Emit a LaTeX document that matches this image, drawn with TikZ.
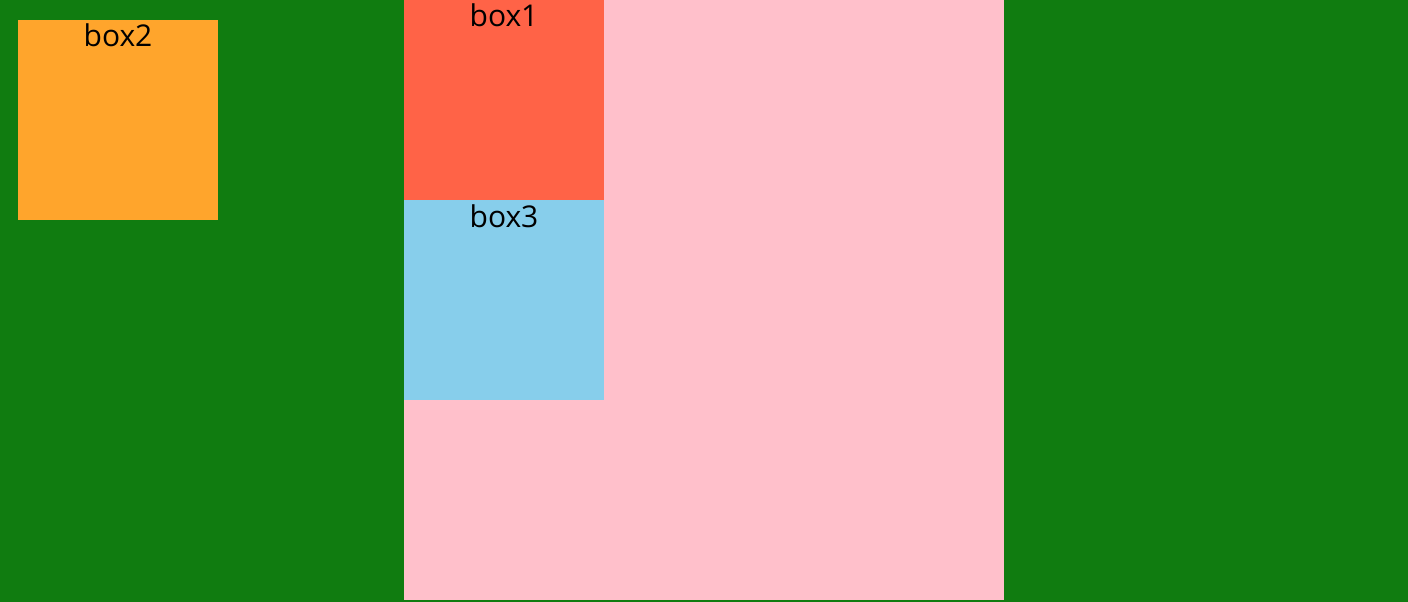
\documentclass[tikz,border=0pt]{standalone}
\usepackage{fontspec}
\setmainfont{Open Sans}
\definecolor{bggreen}{HTML}{107C10}
\definecolor{pinkc}{HTML}{FFC0CB}
\definecolor{tomatoc}{HTML}{FF6347}
\definecolor{skyc}{HTML}{87CEEB}
\definecolor{orangec}{HTML}{FFA52C}
\tikzset{
  boxshape/.style={rectangle, inner sep=0pt, outer sep=0pt, draw=none, anchor=north west},
  boxlabel/.style={anchor=base, inner sep=0pt, font=\fontsize{30}{36}\selectfont, text=black}
}
\begin{document}
\begin{tikzpicture}[x=1pt,y=-1pt]
\fill[bggreen] (0,0) rectangle (1408,602);
\useasboundingbox (0,0) rectangle (1408,602);
\node[boxshape, fill=pinkc, minimum width=600pt, minimum height=600pt] (container) at (404,0) {};
\node[boxshape, fill=tomatoc, minimum width=200pt, minimum height=200pt] (box1) at (404,0) {};
\node[boxshape, fill=skyc, minimum width=200pt, minimum height=200pt] (box3) at (404,200) {};
\node[boxshape, fill=orangec, minimum width=200pt, minimum height=200pt] (box2) at (18,20) {};
\node[boxlabel] (t1) at ([yshift=-27pt]box1.north) {box1};
\node[boxlabel] (t3) at ([yshift=-27pt]box3.north) {box3};
\node[boxlabel] (t2) at ([yshift=-27pt]box2.north) {box2};
\end{tikzpicture}
\end{document}
